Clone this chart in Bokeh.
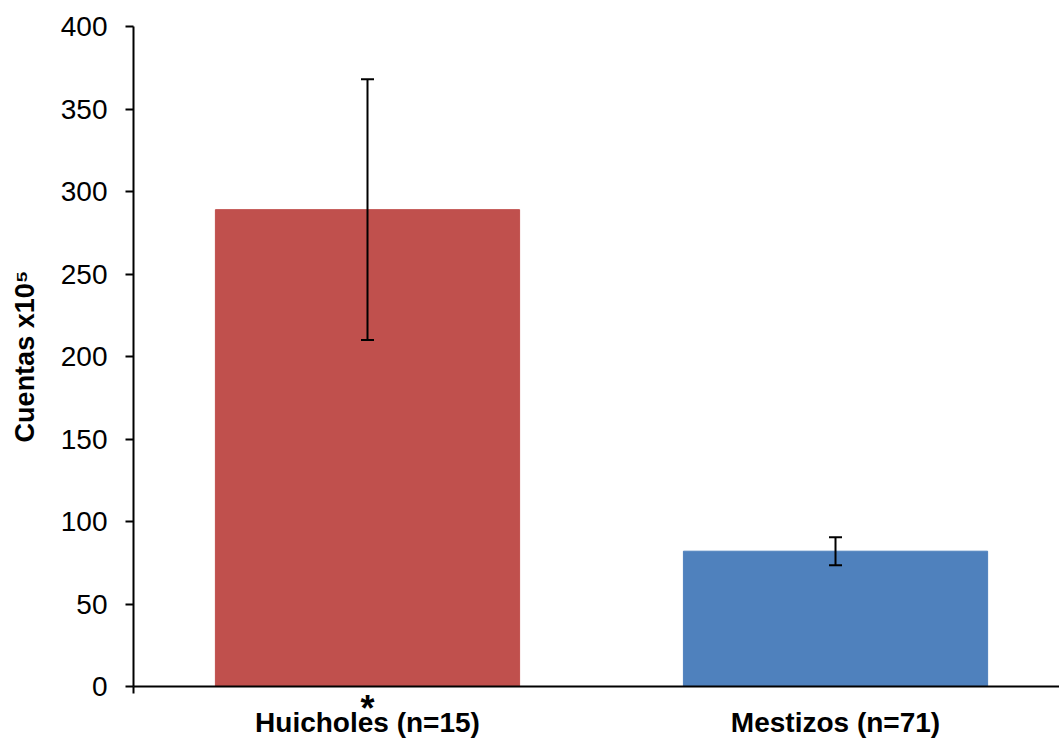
from bokeh.plotting import figure
from bokeh.models import (ColumnDataSource, Range1d, FixedTicker, Whisker, TeeHead,
                          LinearAxis)
from bokeh.embed import file_html
from bokeh.resources import INLINE

# Data
groups = ["Huicholes (n=15)", "Mestizos (n=71)"]
means = [289, 82]
errors = [79, 8.5]
colors = ["#C0504D", "#4F81BD"]
y_ticks = [0, 50, 100, 150, 200, 250, 300, 350, 400]
significance = ["*", ""]

xs = list(range(len(groups)))
source = ColumnDataSource(dict(
    x=xs,
    top=means,
    upper=[m + e for m, e in zip(means, errors)],
    lower=[m - e for m, e in zip(means, errors)],
    color=colors,
))

p = figure(
    width=1059, height=742,
    output_backend="svg", toolbar_location=None,
    x_range=Range1d(-0.5, 1.4786), y_range=Range1d(0, 400),
    x_axis_location=None,
    min_border_left=133, min_border_right=0,
    min_border_top=26, min_border_bottom=56,
)
p.outline_line_color = None
p.grid.grid_line_color = None
p.background_fill_color = "white"
p.border_fill_color = "white"

p.vbar(x="x", top="top", width=0.65, bottom=0, color="color", source=source)

whisker = Whisker(
    base="x", upper="upper", lower="lower", source=source,
    line_color="black", line_width=2, level="overlay",
    upper_head=TeeHead(size=13, line_color="black", line_width=2),
    lower_head=TeeHead(size=13, line_color="black", line_width=2),
)
p.add_layout(whisker)

# Baseline axis carrying the significance marks
sig_axis = LinearAxis(
    ticker=FixedTicker(ticks=xs, minor_ticks=[-0.5]),
    major_label_overrides={i: s for i, s in enumerate(significance)},
    major_label_text_font="Liberation Sans",
    major_label_text_font_style="bold",
    major_label_text_font_size="36px",
    major_label_text_color="black",
    major_label_standoff=-6,
    major_tick_line_color=None,
    minor_tick_out=7, minor_tick_in=0,
    minor_tick_line_width=2, minor_tick_line_color="black",
    axis_line_width=2, axis_line_color="black",
)

# Group names
name_axis = LinearAxis(
    ticker=FixedTicker(ticks=xs),
    major_label_overrides={i: g for i, g in enumerate(groups)},
    major_label_text_font="Liberation Sans",
    major_label_text_font_style="bold",
    major_label_text_font_size="28px",
    major_label_text_color="black",
    major_label_standoff=-31,
    major_tick_line_color=None,
    minor_tick_line_color=None,
    axis_line_color=None,
)
p.below = [sig_axis, name_axis]

# y axis
ya = p.yaxis[0]
ya.ticker = FixedTicker(ticks=y_ticks)
ya.major_label_text_font = "Liberation Sans"
ya.major_label_text_font_size = "28px"
ya.major_label_text_color = "black"
ya.major_tick_out = 8
ya.major_tick_in = 0
ya.major_tick_line_width = 2
ya.minor_tick_line_color = None
ya.major_label_standoff = 18
ya.axis_line_width = 2
ya.axis_line_color = "black"
ya.axis_label = "Cuentas x10\u2075"
ya.axis_label_text_font = "Liberation Sans"
ya.axis_label_text_font_style = "bold"
ya.axis_label_text_font_size = "27px"
ya.axis_label_text_color = "black"
ya.axis_label_standoff = 18

open("out.html", "w").write(file_html(p, INLINE))
